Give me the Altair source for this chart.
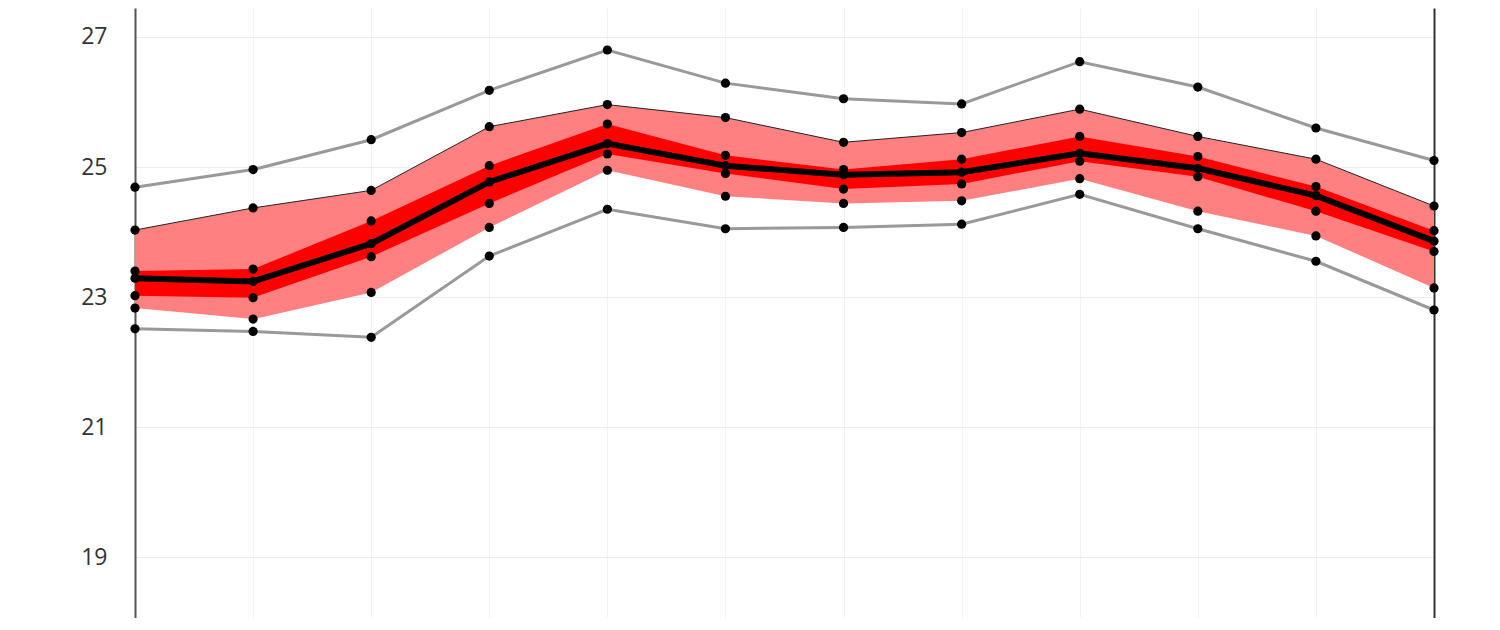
import altair as alt
import pandas as pd

months = [1, 2, 3, 4, 5, 6, 7, 8, 9, 10, 11, 12]
v_max = [24.69, 24.96, 25.42, 26.18, 26.80, 26.29, 26.05, 25.97, 26.62, 26.23, 25.60, 25.10]
v_p90 = [24.03, 24.37, 24.64, 25.62, 25.96, 25.76, 25.38, 25.53, 25.89, 25.47, 25.12, 24.40]
v_p75 = [23.40, 23.43, 24.17, 25.02, 25.66, 25.18, 24.96, 25.12, 25.47, 25.16, 24.70, 24.02]
v_med = [23.29, 23.24, 23.82, 24.77, 25.36, 25.02, 24.88, 24.92, 25.21, 24.98, 24.56, 23.86]
v_p25 = [23.02, 22.99, 23.62, 24.44, 25.20, 24.90, 24.66, 24.74, 25.09, 24.85, 24.32, 23.70]
v_p10 = [22.83, 22.66, 23.07, 24.07, 24.95, 24.55, 24.44, 24.48, 24.82, 24.32, 23.94, 23.14]
v_min = [22.51, 22.47, 22.38, 23.63, 24.35, 24.05, 24.07, 24.12, 24.58, 24.05, 23.55, 22.80]
y_ticks = [19, 21, 23, 25, 27]

df = pd.DataFrame({
    "month": months, "vmax": v_max, "p90": v_p90, "p75": v_p75, "med": v_med,
    "p25": v_p25, "p10": v_p10, "vmin": v_min,
})

xs = alt.Scale(domain=[1, 12], nice=False, zero=False)
ys = alt.Scale(domain=[18.062, 27.446], nice=False, zero=False)

x_enc = alt.X("month:Q", scale=xs,
              axis=alt.Axis(labels=False, ticks=False, domain=False, title=None,
                            grid=True, gridColor="#f2f2f2", values=months))
y_axis = alt.Axis(values=y_ticks, title=None, ticks=False, grid=True, gridColor="#eeeeee",
                  labelFont="Open Sans", labelFontSize=23, labelColor="#333333",
                  labelPadding=28, domainColor="#555555", domainWidth=2)


def yq(field):
    return alt.Y(field, scale=ys, axis=None)


base = alt.Chart(df)

band_outer = base.mark_area(color="#ff8080", opacity=1).encode(
    x=x_enc, y=alt.Y("p10:Q", scale=ys, axis=y_axis), y2="p90:Q")
band_inner = base.mark_area(color="#ff0000", opacity=1).encode(
    x="month:Q", y=yq("p25:Q"), y2="p75:Q")
edge_top = base.mark_line(color="#222222", strokeWidth=1).encode(x="month:Q", y=yq("p90:Q"))
line_max = base.mark_line(color="#999999", strokeWidth=3).encode(x="month:Q", y=yq("vmax:Q"))
line_min = base.mark_line(color="#999999", strokeWidth=3).encode(x="month:Q", y=yq("vmin:Q"))
line_med = base.mark_line(color="#000000", strokeWidth=6).encode(x="month:Q", y=yq("med:Q"))

pts = base.transform_fold(
    ["vmax", "p90", "p75", "med", "p25", "p10", "vmin"], as_=["stat", "val"]
).mark_circle(color="#000000", opacity=1, size=85).encode(
    x="month:Q",
    y=alt.Y("val:Q", scale=ys,
            axis=alt.Axis(orient="right", labels=False, ticks=False, grid=False, title=None,
                          domainColor="#333333", domainWidth=2)))

chart = alt.layer(band_outer, band_inner, edge_top, line_max, line_min, line_med, pts).resolve_axis(
    y="independent"
).properties(
    width=1299, height=610,
    background="white",
    autosize=alt.AutoSizeParams(type="none"),
    padding={"left": 127, "top": 0, "right": 52, "bottom": 0},
).configure_view(strokeWidth=0, stroke="transparent")

chart.save("out.html", embed_options={"renderer": "svg", "actions": False})
